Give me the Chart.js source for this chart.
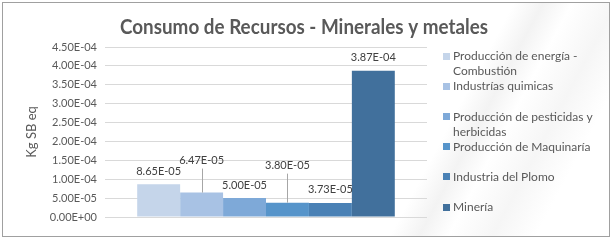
<!DOCTYPE html>
<html>
<head>
<meta charset="utf-8">
<script src="https://cdn.jsdelivr.net/npm/chart.js@4/dist/chart.umd.min.js"></script>
<style>
  html, body { margin: 0; padding: 0; background: #ffffff; }
  #wrap { position: relative; width: 612px; height: 240px; overflow: hidden; }
  #frame {
    position: absolute; left: 2px; top: 2px; width: 606px; height: 233px;
    border: 1px solid #a0a0a0;
    background: linear-gradient(118deg, rgba(255,255,255,0) 70%, rgba(238,238,238,0.7) 74%, rgba(255,255,255,0) 78%, rgba(242,242,242,0.7) 84%, rgba(255,255,255,0) 90%);
  }
  canvas { position: absolute; left: 0; top: 0; }
</style>
</head>
<body>
<div id="wrap">
  <div id="frame"></div>
  <canvas id="c" width="612" height="240"></canvas>
</div>
<script>
// ---- Data ----
const chartTitle = 'Consumo de Recursos - Minerales y metales';
const yAxisTitle = 'Kg SB eq';
const categories = [
  ['Producción de energía -', 'Combustión'],
  ['Industrías quimicas'],
  ['Producción de pesticidas y', 'herbicidas'],
  ['Producción de Maquinaría'],
  ['Industria del Plomo'],
  ['Minería']
];
const values = [8.65e-5, 6.47e-5, 5.00e-5, 3.80e-5, 3.73e-5, 3.87e-4];
const yMin = 0;
const yMax = 4.5e-4;
const yStep = 5e-5;

// ---- Styles ----
const colors = ['#c5d5ea', '#a8c2e4', '#7ea9d8', '#5694ca', '#4a81b5', '#41709c'];
const labelLift = [13, 32, 13, 37, 13, 13]; // px above bar top (label centre)
const textColor = '#595959';
const FONT = 'Lato, "Open Sans", sans-serif';

function sci(v) {
  if (Math.abs(v) < 1e-12) return '0.00E+00';
  let s = v.toExponential(2).toUpperCase();
  const m = s.match(/^(-?[\d.]+)E([+-])(\d+)$/);
  if (!m) return s;
  return m[1] + 'E' + m[2] + (m[3].length < 2 ? '0' + m[3] : m[3]);
}

const titlePlugin = {
  id: 'customTitle',
  afterDraw(chart) {
    const ctx = chart.ctx;
    ctx.save();
    ctx.font = 'bold 20px ' + FONT;
    ctx.fillStyle = textColor;
    ctx.textBaseline = 'middle';
    ctx.textAlign = 'center';
    const w = ctx.measureText(chartTitle).width;
    const target = 368;
    const sx = target / w;
    ctx.translate(304, 28);
    ctx.scale(sx, 1);
    ctx.fillText(chartTitle, 0, 0);
    ctx.restore();
  }
};

const dataLabelPlugin = {
  id: 'dataLabels',
  afterDatasetsDraw(chart) {
    const ctx = chart.ctx;
    ctx.save();
    ctx.font = '11px ' + FONT;
    ctx.fillStyle = '#404040';
    ctx.textAlign = 'center';
    ctx.textBaseline = 'middle';
    chart.data.datasets.forEach((ds, i) => {
      const meta = chart.getDatasetMeta(i);
      const el = meta.data[0];
      if (!el) return;
      const x = el.x, top = el.y;
      const ly = top - labelLift[i];
      if (labelLift[i] > 20) {
        ctx.strokeStyle = '#a6a6a6';
        ctx.lineWidth = 1;
        ctx.beginPath();
        ctx.moveTo(Math.round(x) + 0.5, ly + 8);
        ctx.lineTo(Math.round(x) + 0.5, top);
        ctx.stroke();
      }
      ctx.fillText(sci(ds.data[0]), x, ly);
    });
    ctx.restore();
  }
};

const legendPlugin = {
  id: 'customLegend',
  afterDraw(chart) {
    const ctx = chart.ctx;
    ctx.save();
    ctx.font = '12px ' + FONT;
    ctx.textBaseline = 'middle';
    ctx.textAlign = 'left';
    chart.data.datasets.forEach((ds, i) => {
      const y0 = 56.5 + i * 30.1;
      ctx.fillStyle = ds.backgroundColor;
      ctx.fillRect(443, Math.round(y0 - 3.5), 7, 7);
      ctx.fillStyle = textColor;
      const lines = categories[i];
      lines.forEach((ln, k) => {
        ctx.fillText(ln, 453, y0 + k * 15);
      });
    });
    ctx.restore();
  }
};

new Chart(document.getElementById('c'), {
  type: 'bar',
  data: {
    labels: [''],
    datasets: categories.map((c, i) => ({
      label: c.join(' '),
      data: [values[i]],
      backgroundColor: colors[i],
      borderWidth: 0
    }))
  },
  options: {
    responsive: false,
    animation: false,
    devicePixelRatio: 1,
    layout: { padding: { top: 47, right: 185, bottom: 23, left: 0 } },
    plugins: {
      legend: { display: false },
      title: { display: false },
      tooltip: { enabled: false }
    },
    datasets: { bar: { barPercentage: 1.0, categoryPercentage: 0.8 } },
    scales: {
      x: { display: false },
      y: {
        min: yMin,
        max: yMax,
        afterFit(scale) { scale.width = 105; },
        ticks: {
          stepSize: yStep,
          padding: 8,
          color: textColor,
          font: { family: FONT, size: 11 },
          callback: (v) => sci(v)
        },
        grid: { color: '#d9d9d9', drawTicks: false, lineWidth: 1 },
        border: { display: false },
        title: {
          display: true,
          text: yAxisTitle,
          color: textColor,
          font: { family: FONT, size: 13 },
          padding: { top: 24, bottom: 0 }
        }
      }
    }
  },
  plugins: [titlePlugin, dataLabelPlugin, legendPlugin]
});
</script>
</body>
</html>
